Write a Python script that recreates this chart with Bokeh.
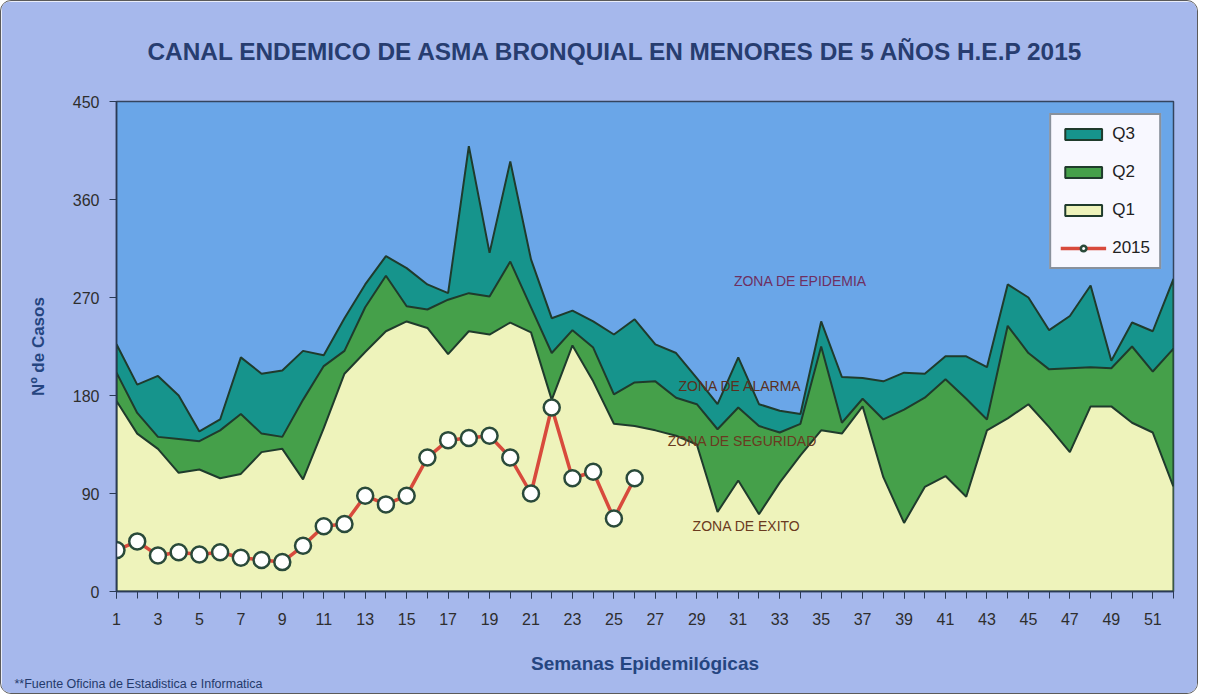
from bokeh.plotting import figure
from bokeh.models import Range1d, FixedTicker, Legend, LegendItem, Label, Title
from bokeh.embed import file_html
from bokeh.resources import INLINE

# ---------------- data ----------------
weeks = list(range(1, 53))
q3 = [227, 190, 198, 180, 147, 158, 215, 200, 203, 221, 217, 251, 282, 308, 297, 282,
      274, 409, 311, 395, 305, 251, 258, 248, 236, 250, 227, 219, 196, 172, 215, 172,
      166, 163, 248, 197, 196, 193, 201, 200, 216, 216, 206, 282, 270, 240, 253, 281,
      212, 247, 239, 287]
q2 = [201, 164, 142, 140, 138, 148, 163, 145, 142, 176, 207, 221, 261, 290, 262, 259,
      268, 274, 271, 303, 261, 219, 240, 224, 181, 192, 193, 178, 172, 149, 169, 152,
      146, 154, 225, 155, 177, 158, 167, 178, 195, 177, 158, 244, 219, 204, 205, 206,
      205, 225, 202, 223]
q1 = [175, 145, 131, 109, 112, 104, 108, 128, 131, 103, 150, 200, 220, 239, 248, 242,
      218, 239, 236, 247, 238, 176, 226, 193, 154, 152, 148, 143, 135, 73, 102, 71,
      100, 125, 148, 145, 170, 105, 63, 96, 106, 87, 148, 159, 172, 151, 128, 170,
      170, 155, 146, 96]
weeks_2015 = list(range(1, 27))
cases_2015 = [38, 46, 33, 36, 34, 36, 31, 29, 27, 42, 60, 62, 88, 80, 88, 123, 139,
              141, 143, 123, 90, 169, 104, 110, 67, 104]
y_ticks = [0, 90, 180, 270, 360, 450]
x_label_ticks = list(range(1, 52, 2))

title_text = "CANAL ENDEMICO DE ASMA BRONQUIAL EN MENORES DE 5 AÑOS  H.E.P 2015"
x_title = "Semanas Epidemilógicas"
y_title = "Nº de Casos"
source_note = "**Fuente Oficina de Estadistica e Informatica"
zone_names = ["ZONA DE EPIDEMIA", "ZONA DE ALARMA", "ZONA DE SEGURIDAD", "ZONA DE EXITO"]
series_names = ["Q3", "Q2", "Q1", "2015"]

FONT = "Liberation Sans"

# ---------------- figure ----------------
p = figure(width=1198, height=694, x_range=Range1d(1, 52), y_range=Range1d(0, 450),
           output_backend="svg", toolbar_location=None,
           min_border_left=115, min_border_right=26, min_border_top=100, min_border_bottom=104)
p.styles = {"border": "1px solid #5a5a5a", "border-radius": "11px", "overflow": "hidden"}
p.border_fill_color = "#a6b8ec"
p.background_fill_color = "#6aa6e8"
p.outline_line_color = "#34445e"
p.outline_line_width = 1.5
p.xgrid.visible = False
p.ygrid.visible = False

p.title.text = title_text
p.title.align = "left"
p.title.vertical_align = "top"
p.title.text_font = FONT
p.title.text_font_size = "24.4px"
p.title.text_font_style = "bold"
p.title.text_color = "#273d70"
p.title.standoff = 69
p.title.offset = 31

# ---------------- areas ----------------
outline = "#1f3b2c"
fills = ["#16948c", "#45a04a", "#eef3bb"]
renderers = []
for vals, col in zip([q3, q2, q1], fills):
    r = p.patch(weeks + [weeks[-1], weeks[0]], vals + [0, 0], fill_color=col,
                line_color=outline, line_width=2)
    renderers.append(r)

line_r = p.line(weeks_2015, cases_2015, line_color="#d84a3c", line_width=3.5)
pts_r = p.scatter(weeks_2015, cases_2015, size=16, fill_color="white",
                  line_color="#2a4a3a", line_width=2.5)

# ---------------- zone labels ----------------
zone_pos = [(34.0, 285, "#6e2f62"), (31.1, 189, "#5a3020"), (31.2, 138, "#6a3a20"), (31.4, 60, "#6a3a20")]
for name, (zx, zy, zc) in zip(zone_names, zone_pos):
    p.add_layout(Label(x=zx, y=zy, text=name, text_font=FONT, text_font_size="14px",
                       text_color=zc, text_align="center", text_baseline="middle"))

# ---------------- axes ----------------
p.xaxis.ticker = FixedTicker(ticks=x_label_ticks, minor_ticks=weeks)
p.yaxis.ticker = FixedTicker(ticks=y_ticks)
for ax in (p.xaxis[0], p.yaxis[0]):
    ax.axis_line_color = "#2a3a55"
    ax.axis_line_width = 1.5
    ax.major_tick_line_color = "#2a3a55"
    ax.minor_tick_line_color = "#2a3a55"
    ax.major_tick_in = 0
    ax.major_tick_out = 7
    ax.minor_tick_in = 0
    ax.major_label_text_font = FONT
    ax.major_label_text_font_size = "16px"
    ax.major_label_text_color = "#2e2e2e"
    ax.axis_label_text_font = FONT
    ax.axis_label_text_font_style = "bold"
    ax.axis_label_text_color = "#254580"
p.xaxis.minor_tick_out = 7
p.yaxis.minor_tick_out = 0
p.xaxis.major_label_standoff = 14
p.yaxis.major_label_standoff = 10
p.xaxis.axis_label = x_title
p.xaxis.axis_label_text_font_size = "19px"
p.xaxis.axis_label_standoff = 25
p.yaxis.axis_label = y_title
p.yaxis.axis_label_text_font_size = "17px"
p.yaxis.axis_label_standoff = 22

# ---------------- legend ----------------
legend = Legend(items=[LegendItem(label=series_names[0], renderers=[renderers[0]]),
                       LegendItem(label=series_names[1], renderers=[renderers[1]]),
                       LegendItem(label=series_names[2], renderers=[renderers[2]]),
                       LegendItem(label=series_names[3], renderers=[line_r, pts_r])],
                location="top_right", margin=12, padding=9, spacing=18,
                glyph_width=46, glyph_height=14, label_standoff=6,
                label_text_font=FONT, label_text_font_size="17px", label_text_color="#222222",
                background_fill_color="#f8f8ff", background_fill_alpha=1.0,
                border_line_color="#1a2a3a", border_line_width=2)
p.add_layout(legend)

# ---------------- source note ----------------
p.add_layout(Title(text=source_note, align="left", vertical_align="top", offset=-102, standoff=0,
                   text_font=FONT, text_font_size="12.5px", text_font_style="normal",
                   text_color="#243a6b"), "below")

open("out.html", "w").write(file_html(p, INLINE))
